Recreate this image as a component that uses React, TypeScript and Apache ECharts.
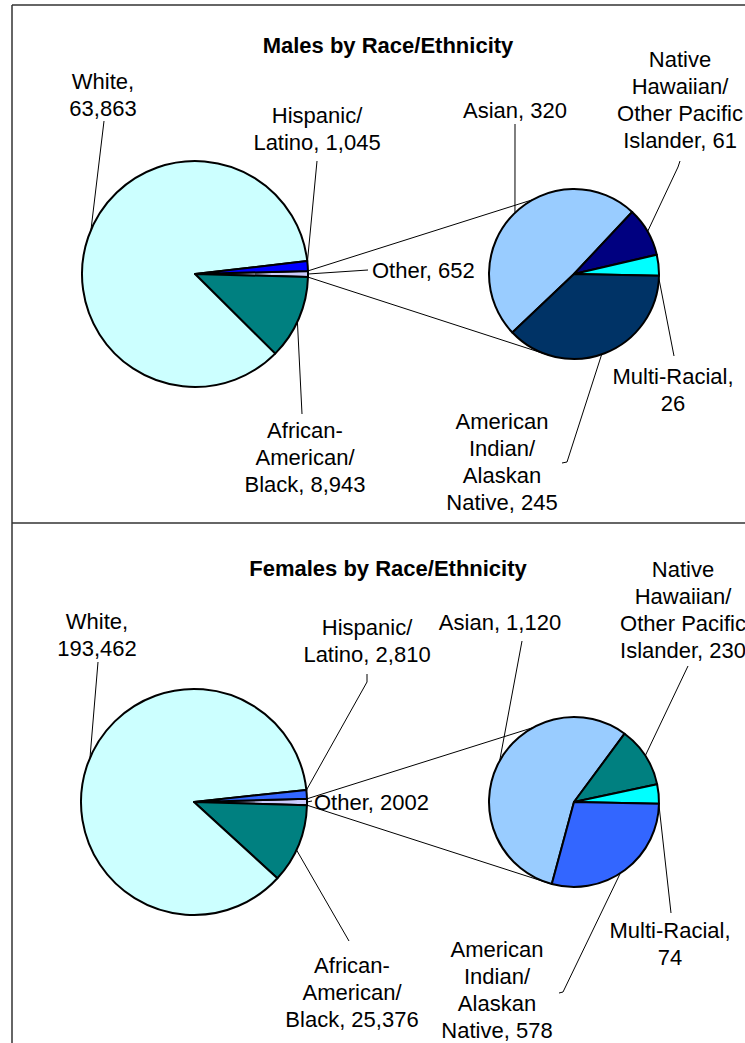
import React, { useEffect, useRef } from "react";
import * as echarts from "echarts";

// ---- data ----
const titles = ["Males by Race/Ethnicity", "Females by Race/Ethnicity"];
// main pie (clockwise from the "Other" slice)
const mainCategories = ["Other", "African-American/Black", "White", "Hispanic/Latino"];
const maleMainValues = [652, 8943, 63863, 1045];
const femaleMainValues = [2002, 25376, 193462, 2810];
// breakdown of "Other"
const otherCategories = ["Asian", "Native Hawaiian/Other Pacific Islander", "Multi-Racial", "American Indian/Alaskan Native"];
const maleOtherValues = [320, 61, 26, 245];
const femaleOtherValues = [1120, 230, 74, 578];
// label wording (line breaks as in the reference)
const mainLabelTemplates = ["Other, {v}", "African-\nAmerican/\nBlack, {v}", "White,\n{v}", "Hispanic/\nLatino, {v}"];
const otherLabelTemplates = ["Asian, {v}", "Native\nHawaiian/\nOther Pacific\nIslander, {v}", "Multi-Racial,\n{v}", "American\nIndian/\nAlaskan\nNative, {v}"];
// the female "Other" label is printed without a thousands separator
const ungroupedLabels = [[], [0]];

// ---- styles / layout ----
const maleMainColors = ["#CCCCFF", "#008080", "#CCFFFF", "#0000FF"];
const femaleMainColors = ["#CCCCFF", "#008080", "#CCFFFF", "#3366FF"];
const maleOtherColors = ["#99CCFF", "#000080", "#00FFFF", "#003366"];
const femaleOtherColors = ["#99CCFF", "#008080", "#00FFFF", "#3366FF"];

const FONT = "'Liberation Sans', Arial, Helvetica, sans-serif";
const panels = [
  { mainCx: 195, cy: 274, titleY: 34 },
  { mainCx: 194, cy: 802, titleY: 557 },
];
const MAIN_R = 113;
const SEC_CX = 574;
const SEC_R = 85;
const SEC_BOUNDARY = -1.2; // angle where the last secondary slice begins
const CONNECT_TOP = 119;
const CONNECT_BOTTOM = -107;

type LL = { x: number; y: number; align?: string; angle: number; pts: number[][] };
const labelLayouts: LL[][] = [
  // male main
  [
    { x: 372, y: 270, align: "left", angle: 0, pts: [[368, 270]] },
    { x: 305, y: 457, angle: -25, pts: [[302, 414]] },
    { x: 103, y: 95, angle: 157, pts: [[104, 121]] },
    { x: 317, y: 129, angle: 6, pts: [[317, 161]] },
  ],
  // male secondary
  [
    { x: 515, y: 110, angle: 134, pts: [[515, 124]] },
    { x: 680, y: 100, angle: 30, pts: [[678, 167], [680, 161]] },
    { x: 673, y: 390, angle: -3, pts: [[674, 356]] },
    { x: 502, y: 462, angle: -71, pts: [[567, 462], [562, 463]] },
  ],
  // female main
  [
    { x: 314, y: 802, align: "left", angle: 0, pts: [[312, 801]] },
    { x: 352, y: 992, angle: -25, pts: [[349, 941]] },
    { x: 97, y: 635, angle: 157, pts: [[98, 662]] },
    { x: 367, y: 641, angle: 6, pts: [[367, 682], [367, 674]] },
  ],
  // female secondary
  [
    { x: 500, y: 622, angle: 151, pts: [[522, 641]] },
    { x: 683, y: 610, angle: 33, pts: [[688, 666]] },
    { x: 670, y: 944, angle: -2, pts: [[671, 913]] },
    { x: 497, y: 990, angle: -57, pts: [[563, 992], [559, 993]] },
  ],
];

const sum = (a: number[]) => a.reduce((s, v) => s + v, 0);
const fmt = (v: number, grouped: boolean) => (grouped ? v.toLocaleString("en-US") : String(v));
const rad = (d: number) => (d * Math.PI) / 180;
const edge = (cx: number, cy: number, r: number, a: number) => [cx + r * Math.cos(rad(a)), cy - r * Math.sin(rad(a))];

function makeLabelLayout(seriesIdx: number, cx: number, cy: number, r: number) {
  return (params: any) => {
    const L = labelLayouts[seriesIdx][params.dataIndex];
    if (!L) return {};
    const pts = [edge(cx, cy, r, L.angle), ...L.pts];
    while (pts.length < 3) pts.push(pts[pts.length - 1]);
    return {
      x: L.x,
      y: L.y,
      align: L.align || "center",
      verticalAlign: "middle",
      hideOverlap: false,
      labelLinePoints: pts,
    };
  };
}

export default function App() {
  const ref = useRef<HTMLDivElement>(null);
  useEffect(() => {
    if (!ref.current) return;
    const chart = echarts.init(ref.current, undefined, { renderer: "svg" });

    const panelData = [
      { main: maleMainValues, other: maleOtherValues, mc: maleMainColors, oc: maleOtherColors },
      { main: femaleMainValues, other: femaleOtherValues, mc: femaleMainColors, oc: femaleOtherColors },
    ];

    const series: any[] = [];
    const graphics: any[] = [];

    panelData.forEach((pd, pi) => {
      const p = panels[pi];
      const mainTotal = sum(pd.main);
      const otherHalf = (pd.main[0] / mainTotal) * 180;
      const otherTotal = sum(pd.other);
      const lastShare = (pd.other[pd.other.length - 1] / otherTotal) * 360;
      const secStart = SEC_BOUNDARY + 360 - lastShare;

      const common = {
        type: "pie",
        clockwise: true,
        avoidLabelOverlap: false,
        emphasis: { disabled: true },
        itemStyle: { borderColor: "#000", borderWidth: 2 },
        label: {
          show: true,
          position: "outside",
          color: "#000",
          fontFamily: FONT,
          fontSize: 22,
          lineHeight: 27,
          align: "center",
          overflow: "none",
        },
        labelLine: { show: true, smooth: false, length: 5, length2: 5, lineStyle: { color: "#000", width: 1 } },
      };

      series.push({
        ...common,
        name: titles[pi] + " main",
        center: [p.mainCx, p.cy],
        radius: [0, MAIN_R],
        startAngle: otherHalf,
        labelLayout: makeLabelLayout(pi * 2, p.mainCx, p.cy, MAIN_R),
        data: mainCategories.map((c, i) => ({
          name: c,
          value: pd.main[i],
          itemStyle: { color: pd.mc[i] },
          label: {
            formatter: mainLabelTemplates[i].replace("{v}", fmt(pd.main[i], !(ungroupedLabels[pi] as number[]).includes(i))),
          },
        })),
      });
      series.push({
        ...common,
        name: titles[pi] + " other",
        center: [SEC_CX, p.cy],
        radius: [0, SEC_R],
        startAngle: secStart,
        labelLayout: makeLabelLayout(pi * 2 + 1, SEC_CX, p.cy, SEC_R),
        data: otherCategories.map((c, i) => ({
          name: c,
          value: pd.other[i],
          itemStyle: { color: pd.oc[i] },
          label: { formatter: otherLabelTemplates[i].replace("{v}", fmt(pd.other[i], true)) },
        })),
      });

      // connector lines main "Other" slice -> secondary pie
      const a1 = edge(p.mainCx, p.cy, MAIN_R, otherHalf);
      const a2 = edge(p.mainCx, p.cy, MAIN_R, -otherHalf);
      const b1 = edge(SEC_CX, p.cy, SEC_R, CONNECT_TOP);
      const b2 = edge(SEC_CX, p.cy, SEC_R, CONNECT_BOTTOM);
      graphics.push(
        { type: "line", z: 10, shape: { x1: a1[0], y1: a1[1], x2: b1[0], y2: b1[1] }, style: { stroke: "#000", lineWidth: 1 } },
        { type: "line", z: 10, shape: { x1: a2[0], y1: a2[1], x2: b2[0], y2: b2[1] }, style: { stroke: "#000", lineWidth: 1 } }
      );
    });

    // panel frame
    graphics.push(
      { type: "line", shape: { x1: 12, y1: 5, x2: 745, y2: 5 }, style: { stroke: "#333", lineWidth: 1.5 } },
      { type: "line", shape: { x1: 12, y1: 5, x2: 12, y2: 1043 }, style: { stroke: "#333", lineWidth: 1.5 } },
      { type: "line", shape: { x1: 12, y1: 523, x2: 745, y2: 523 }, style: { stroke: "#333", lineWidth: 1.5 } }
    );

    chart.setOption({
      animation: false,
      backgroundColor: "#fff",
      title: titles.map((t, i) => ({
        text: t,
        left: 388,
        top: panels[i].titleY,
        textAlign: "center",
        padding: 0,
        textStyle: { fontFamily: FONT, fontSize: 22, fontWeight: "bold", color: "#000" },
      })),
      series,
      graphic: graphics,
    } as any);
    return () => chart.dispose();
  }, []);
  return <div ref={ref} style={{ position: "absolute", left: 0, top: 0, width: 745, height: 1043 }} />;
}
